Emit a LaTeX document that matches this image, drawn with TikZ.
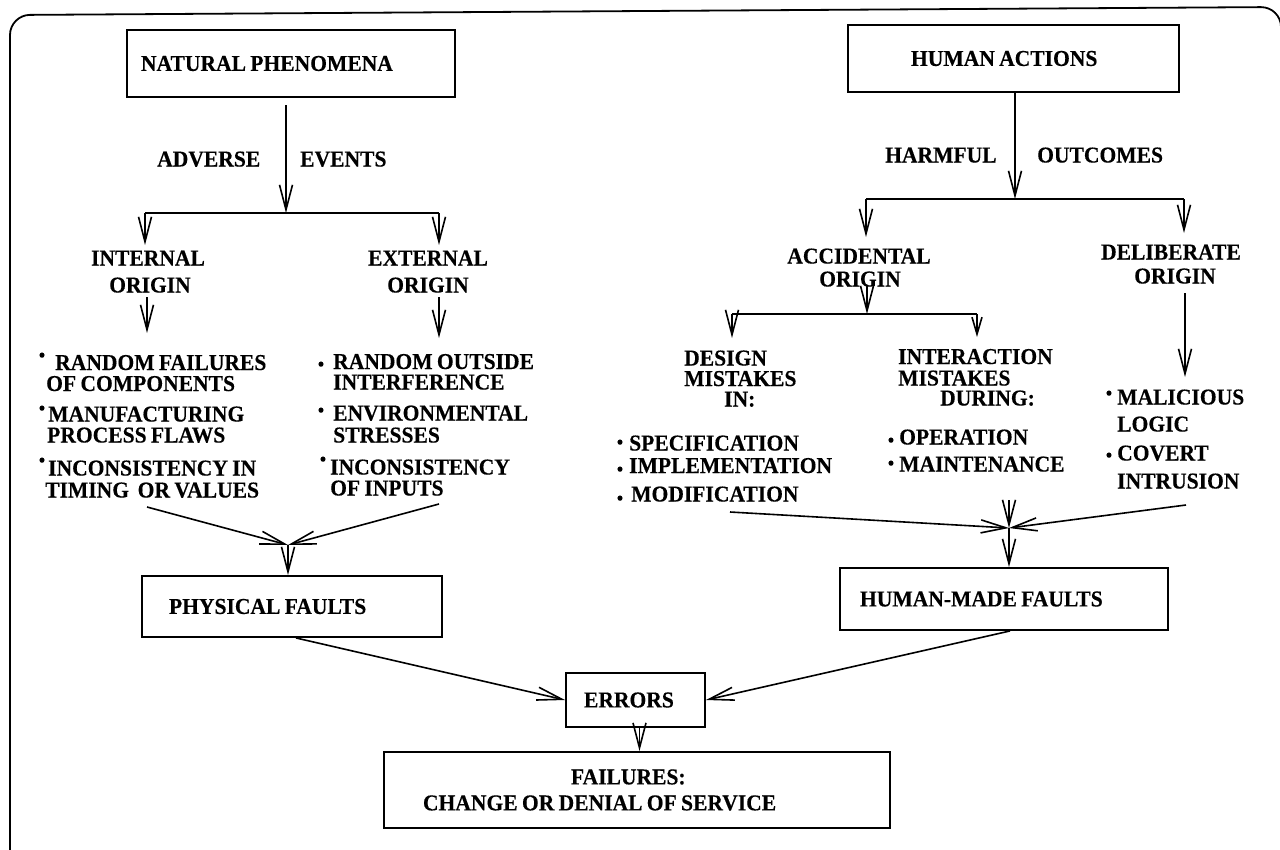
\documentclass[tikz,border=0pt]{standalone}
\usepackage{fontspec}
\setmainfont{Liberation Serif}[FakeStretch=0.95, WordSpace=0.8, BoldFeatures={FakeBold=0.3}]
\usetikzlibrary{arrows.meta}
\begin{document}
\begin{tikzpicture}[x=1pt,y=-1pt,
  lab/.style={font=\fontsize{22.7}{26}\selectfont\bfseries, inner sep=0pt},
  bul/.style={font=\fontsize{19}{19}\selectfont\bfseries, inner sep=0pt},
  box/.style={draw, line width=1.9pt, font=\fontsize{22.7}{26}\selectfont\bfseries, inner ysep=0pt},
  conn/.style={line width=1.6pt},
  arr/.style={conn, -{Straight Barb[length=25pt,width=13pt]}},
  sarr/.style={conn, -{Straight Barb[length=17pt,width=10pt]}},
  frame/.style={line width=1.8pt, rounded corners=20pt}]
\useasboundingbox (0,0) rectangle (1280,849);
\fill[white] (0,0) rectangle (1280,849);
\draw[frame] (10,872) -- (10,15) -- (1281,7) -- (1281,872) -- cycle;

% ---------- boxes
\node[box, inner xsep=14pt, minimum height=67pt] (np) at (291,63.5) {\makebox[300pt][l]{NATURAL PHENOMENA}};
\node[box, inner xsep=63pt, minimum height=67pt] (ha) at (1013.5,58.5) {\makebox[205pt][l]{HUMAN ACTIONS}};
\node[box, inner xsep=27pt, minimum height=61pt] (pf) at (292,606.5) {\makebox[246pt][l]{PHYSICAL FAULTS}};
\node[box, inner xsep=20pt, minimum height=62pt] (hmf) at (1004,599) {\makebox[288pt][l]{HUMAN-MADE FAULTS}};
\node[box, inner xsep=18pt, minimum height=54pt] (err) at (635.5,700) {\makebox[103pt][l]{ERRORS}};
\node[box, inner xsep=39pt, minimum height=76pt] (fail) at (637,790)
  {\vbox{\hbox to 428pt{\hspace*{148pt}FAILURES:\hss}\hbox to 428pt{CHANGE OR DENIAL OF SERVICE\hss}}};

% ---------- left labels
\node[lab, anchor=base west] (adv) at (157,166.5) {ADVERSE};
\node[lab, anchor=base west] (evt) at (300,166.5) {EVENTS};
\node[lab, anchor=base] (int1) at (148,265.5) {INTERNAL};
\node[lab, anchor=base] (int2) at (150,292.5) {ORIGIN};
\node[lab, anchor=base] (ext1) at (428,265.5) {EXTERNAL};
\node[lab, anchor=base] (ext2) at (428,292.5) {ORIGIN};

\node[bul] (b1) at (42,357) {•};
\node[lab, anchor=base west] (l1a) at (55,370) {RANDOM FAILURES};
\node[lab, anchor=base west] (l1b) at (46,391) {OF COMPONENTS};
\node[bul] (b2) at (42,410) {•};
\node[lab, anchor=base west] (l2a) at (48,421.5) {MANUFACTURING};
\node[lab, anchor=base west] (l2b) at (47,442.5) {PROCESS FLAWS};
\node[bul] (b3) at (42,462) {•};
\node[lab, anchor=base west] (l3a) at (48,475.5) {INCONSISTENCY IN};
\node[lab, anchor=base west] (l3b) at (45,497.5) {TIMING\ \ OR VALUES};

\node[bul] (b4) at (321,366) {•};
\node[lab, anchor=base west] (r1a) at (333,369) {RANDOM OUTSIDE};
\node[lab, anchor=base west] (r1b) at (333,389.5) {INTERFERENCE};
\node[bul] (b5) at (321,412) {•};
\node[lab, anchor=base west] (r2a) at (333,420.5) {ENVIRONMENTAL};
\node[lab, anchor=base west] (r2b) at (333,442.5) {STRESSES};
\node[bul] (b6) at (323,461) {•};
\node[lab, anchor=base west] (r3a) at (330,474.5) {INCONSISTENCY};
\node[lab, anchor=base west] (r3b) at (330,495.5) {OF INPUTS};

% ---------- right labels
\node[lab, anchor=base west] (harm) at (885,162.5) {HARMFUL};
\node[lab, anchor=base west] (outc) at (1037,162.5) {OUTCOMES};
\node[lab, anchor=base] (acc1) at (859,263.5) {ACCIDENTAL};
\node[lab, anchor=base] (acc2) at (860,286.5) {ORIGIN};
\node[lab, anchor=base] (del1) at (1171,259.5) {DELIBERATE};
\node[lab, anchor=base] (del2) at (1175,283.5) {ORIGIN};

\node[lab, anchor=base west] (d1) at (684,365.5) {DESIGN};
\node[lab, anchor=base west] (d2) at (684,386) {MISTAKES};
\node[lab, anchor=base west] (d3) at (724,406.5) {IN:};
\node[lab, anchor=base west] (i1) at (898,364) {INTERACTION};
\node[lab, anchor=base west] (i2) at (898,385.5) {MISTAKES};
\node[lab, anchor=base west] (i3) at (940,405.5) {DURING:};

\node[bul] (b7) at (620,444) {•};
\node[lab, anchor=base west] (s1) at (629,450.5) {SPECIFICATION};
\node[bul] (b8) at (620,471) {•};
\node[lab, anchor=base west] (s2) at (629,473) {IMPLEMENTATION};
\node[bul] (b9) at (620,500) {•};
\node[lab, anchor=base west] (s3) at (631,501.5) {MODIFICATION};

\node[bul] (b10) at (891,442) {•};
\node[lab, anchor=base west] (o1) at (899,444.5) {OPERATION};
\node[bul] (b11) at (891,465) {•};
\node[lab, anchor=base west] (o2) at (899,471.5) {MAINTENANCE};

\node[bul] (b12) at (1109,395) {•};
\node[lab, anchor=base west] (m1) at (1117,404.5) {MALICIOUS};
\node[lab, anchor=base west] (m2) at (1117,431.5) {LOGIC};
\node[bul] (b13) at (1109,457) {•};
\node[lab, anchor=base west] (m3) at (1117,460.5) {COVERT};
\node[lab, anchor=base west] (m4) at (1117,488.5) {INTRUSION};

% ---------- coordinates
\coordinate (npout) at (286,105);
\coordinate (j1) at (286,213);
\coordinate (jl1) at (145,213);
\coordinate (jr1) at (439,213);
\coordinate (t1) at (145,245);
\coordinate (t2) at (439,245);
\coordinate (u1) at (147,297);
\coordinate (v1) at (147,333);
\coordinate (u2) at (439,297);
\coordinate (v2) at (439,338);
\coordinate (w1) at (147,507);
\coordinate (w2) at (439,504);
\coordinate (pc) at (288,545);

\coordinate (j2) at (1015,199);
\coordinate (jl2) at (866,199);
\coordinate (jr2) at (1184,199);
\coordinate (t3) at (866,237);
\coordinate (t4) at (1184,233);
\coordinate (u3) at (867,285);
\coordinate (j3) at (867,314);
\coordinate (jl3) at (732,314);
\coordinate (jr3) at (977,314);
\coordinate (t5) at (732,338);
\coordinate (t6) at (977,337);
\coordinate (u4) at (1185,293);
\coordinate (v4) at (1185,377);
\coordinate (w3) at (730,512);
\coordinate (w4) at (1009,500);
\coordinate (w5) at (1186,505);
\coordinate (hc) at (1009,528);

% ---------- connectors, left
\draw[arr] (npout) -- (j1);
\draw[conn] (jl1) -- (jr1);
\draw[arr] (jl1) -- (t1);
\draw[arr] (jr1) -- (t2);
\draw[arr] (u1) -- (v1);
\draw[arr] (u2) -- (v2);
\draw[arr] (w1) -- (pc);
\draw[arr] (w2) -- (pc);
\draw[arr] (pc) -- (pc |- pf.north);

% ---------- connectors, right
\draw[arr] (ha.south -| j2) -- (j2);
\draw[conn] (jl2) -- (jr2);
\draw[arr] (jl2) -- (t3);
\draw[arr] (jr2) -- (t4);
\draw[arr] (u3) -- (j3);
\draw[conn] (jl3) -- (jr3);
\draw[arr] (jl3) -- (t5);
\draw[sarr] (jr3) -- (t6);
\draw[arr] (u4) -- (v4);
\draw[arr] (w3) -- (hc);
\draw[arr] (w4) -- (hc);
\draw[arr] (w5) -- (hc);
\draw[arr] (hc) -- (hc |- hmf.north);

% ---------- connectors, bottom
\draw[arr] ([xshift=4pt]pf.south) -- (err.west);
\draw[arr] ([xshift=6pt]hmf.south) -- (err.east);
\draw[arr] ([xshift=4pt]err.south) -- ([xshift=4pt]err.south |- fail.north);
\end{tikzpicture}
\end{document}
